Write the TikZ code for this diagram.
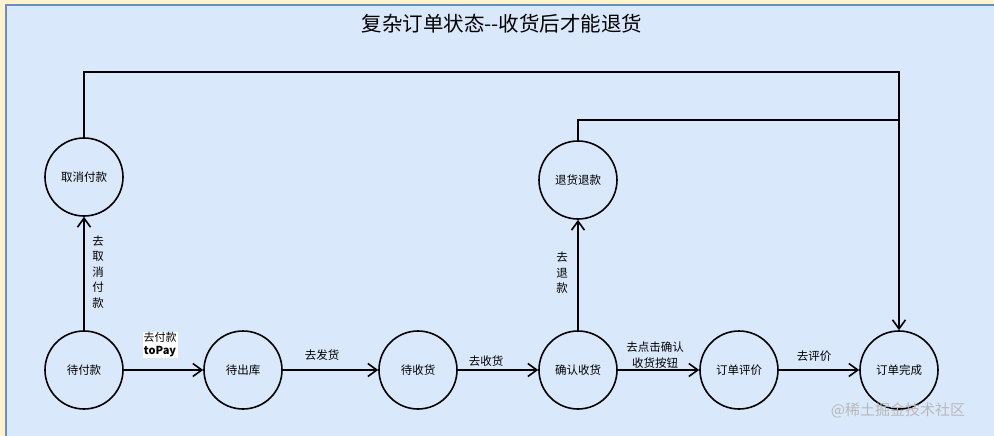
\documentclass[tikz,border=0pt]{standalone}
\usepackage{fontspec}
\setmainfont{Noto Sans CJK SC}
\usepackage{tikz}
\usetikzlibrary{arrows.meta,positioning}
\definecolor{PanelBlue}{HTML}{DAE8FC}
\definecolor{PanelEdge}{HTML}{6C8EBF}
\definecolor{PageCream}{HTML}{FFF2CC}

\begin{document}
\begin{tikzpicture}[x=1pt, y=-1pt,
  state/.style={draw=black, circle, line width=1.6pt, minimum size=78pt, inner sep=0pt, font=\fontsize{11.5}{14}\selectfont},
  flow/.style={draw=black, line width=1.6pt, -{Straight Barb[length=9pt,width=13pt]}},
  wire/.style={draw=black, line width=1.6pt},
  lbl/.style={font=\fontsize{11.5}{16}\selectfont, align=center},
  vlbl/.style={font=\fontsize{11.5}{15.5}\selectfont, align=center}]

% page + panel
\useasboundingbox (0,0) rectangle (994,436);
\fill[PageCream] (0,0) rectangle (994,436);
\filldraw[fill=PanelBlue, draw=PanelEdge, line width=2pt] (6,5) rectangle (1004,446);
\node[font=\fontsize{20.5}{24}\selectfont] (title) at (502,24) {复杂订单状态-{}-收货后才能退货};

% states
\node[state] (pay) at (84,370) {待付款};
\node[state] (outbound) at (243,370) {待出库};
\node[state] (receive) at (418,370) {待收货};
\node[state] (confirm) at (578,370) {确认收货};
\node[state] (review) at (739,370) {订单评价};
\node[state] (done) at (899,370) {订单完成};
\node[state] (cancel) at (84,177) {取消付款};
\node[state] (refund) at (578,180) {退货退款};

% main flow
\draw[flow] (pay) -- (outbound);
\node[lbl, fill=white, inner sep=1pt, font=\fontsize{11}{13}\selectfont] (toPay) at (160,345) {去付款\\\textbf{toPay}};
\draw[flow] (outbound) -- (receive);
\node[lbl] (ship) at (322,355) {去发货};
\draw[flow] (receive) -- (confirm);
\node[lbl] (take) at (486,361) {去收货};
\draw[flow] (confirm) -- (review);
\node[lbl] (press) at (655,355) {去点击确认\\收货按钮};
\draw[flow] (review) -- (done);
\node[lbl] (rate) at (814,356) {去评价};

% side branches
\draw[flow] (pay) -- (cancel);
\node[vlbl] (goCancel) at (98,272) {去\\取\\消\\付\\款};
\draw[flow] (confirm) -- (refund);
\node[vlbl] (goRefund) at (562,273) {去\\退\\款};

% back to done
\coordinate (topLeft) at (84,72);
\coordinate (topRight) at (899,72);
\coordinate (refundTurn) at (578,120);
\coordinate (refundJoin) at (899,120);
\draw[flow] (cancel) -- (topLeft) -- (topRight) -- (done);
\draw[wire] (refund) -- (refundTurn) -- (refundJoin);

% watermark
\node[text=gray!55, font=\fontsize{15}{17}\selectfont] (mark) at (898,410) {@稀土掘金技术社区};
\end{tikzpicture}
\end{document}
